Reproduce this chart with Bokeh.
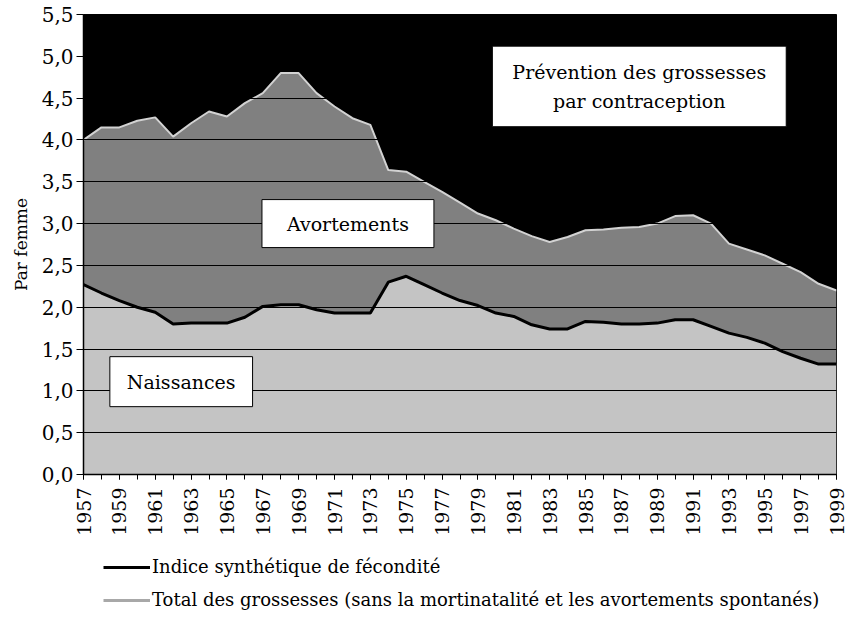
from bokeh.plotting import figure
from bokeh.models import FixedTicker, Label, Legend, LegendItem, ColumnDataSource
from bokeh.layouts import column
from bokeh.embed import file_html
from bokeh.resources import INLINE
import math

years = list(range(1957, 2000))
isf = [2.27, 2.17, 2.08, 2.00, 1.94, 1.80, 1.81, 1.81, 1.81, 1.88,
       2.01, 2.03, 2.03, 1.97, 1.93, 1.93, 1.93, 2.30, 2.37, 2.27,
       2.17, 2.08, 2.02, 1.93, 1.89, 1.79, 1.74, 1.74, 1.83, 1.82,
       1.80, 1.80, 1.81, 1.85, 1.85, 1.77, 1.69, 1.64, 1.57, 1.47,
       1.39, 1.32, 1.32]
total = [4.00, 4.15, 4.15, 4.23, 4.27, 4.04, 4.20, 4.34, 4.28, 4.44,
         4.56, 4.80, 4.80, 4.56, 4.40, 4.26, 4.18, 3.64, 3.62, 3.50,
         3.38, 3.25, 3.12, 3.04, 2.94, 2.85, 2.78, 2.84, 2.92, 2.93,
         2.95, 2.96, 3.00, 3.09, 3.10, 3.00, 2.76, 2.69, 2.62, 2.52,
         2.42, 2.28, 2.20]
y_ticks = [0.0, 0.5, 1.0, 1.5, 2.0, 2.5, 3.0, 3.5, 4.0, 4.5, 5.0, 5.5]
x_label_years = list(range(1957, 2000, 2))
legend_labels = ["Indice synthétique de fécondité",
                 "Total des grossesses (sans la mortinatalité et les avortements spontanés)"]

FONT = "DejaVu Serif"
NAIS_COLOR = "#c4c4c4"
AVORT_COLOR = "#808080"
TOTAL_LINE = "#d2d2d2"

src = ColumnDataSource(dict(year=years, isf=isf, total=total))

p = figure(width=847, height=540, output_backend="svg", toolbar_location=None,
           x_range=(1957, 1999), y_range=(0, 5.5),
           min_border_left=83, min_border_right=11, min_border_top=14,
           min_border_bottom=66)

p.background_fill_color = "black"
p.border_fill_color = "white"
p.outline_line_color = "black"
p.outline_line_width = 1

# areas
p.varea(x="year", y1=0, y2="isf", source=src, fill_color=NAIS_COLOR)
p.varea(x="year", y1="isf", y2="total", source=src, fill_color=AVORT_COLOR)
p.line(x="year", y="total", source=src, line_color=TOTAL_LINE, line_width=2)
p.line(x="year", y="isf", source=src, line_color="black", line_width=3)

# grid
p.xgrid.visible = False
p.ygrid.grid_line_color = "black"
p.ygrid.grid_line_width = 1.2
p.ygrid.level = "annotation"

# y axis
p.yaxis.ticker = FixedTicker(ticks=y_ticks)
p.yaxis.major_label_overrides = {t: f"{t:.1f}".replace(".", ",") for t in y_ticks}
p.yaxis.minor_tick_line_color = None
p.yaxis.major_tick_out = 7
p.yaxis.major_tick_in = 0
p.yaxis.axis_line_color = "black"
p.yaxis.axis_line_width = 1.5
p.yaxis.major_label_text_font = FONT
p.yaxis.major_label_text_font_size = "20px"
p.yaxis.major_label_text_color = "black"
p.yaxis.major_label_standoff = 3
p.yaxis.axis_label = "Par femme"
p.yaxis.axis_label_text_font = FONT
p.yaxis.axis_label_text_font_size = "17px"
p.yaxis.axis_label_text_font_style = "normal"
p.yaxis.axis_label_text_color = "black"
p.yaxis.axis_label_standoff = 8

# x axis
p.xaxis.ticker = FixedTicker(ticks=x_label_years, minor_ticks=years)
p.xaxis.major_label_orientation = math.pi / 2
p.xaxis.major_tick_out = 5
p.xaxis.major_tick_in = 0
p.xaxis.minor_tick_out = 5
p.xaxis.minor_tick_in = 0
p.xaxis.minor_tick_line_color = "black"
p.xaxis.axis_line_color = "black"
p.xaxis.axis_line_width = 1.5
p.xaxis.major_label_text_font = FONT
p.xaxis.major_label_text_font_size = "19px"
p.xaxis.major_label_text_color = "black"
p.xaxis.major_label_standoff = 8

# labels
def box_label(x, y, text, ph, pv):
    lab = Label(x=x, y=y, text=text, text_align="center", text_baseline="middle",
                text_font=FONT, text_font_size="19px", text_color="black",
                text_line_height=1.3,
                background_fill_color="white", border_line_color="black",
                border_line_width=1,
                padding=dict(left=ph, right=ph, top=pv, bottom=pv))
    p.add_layout(lab)

box_label(1962.45, 1.11, "Naissances", 17, 14)
box_label(1971.75, 3.0, "Avortements", 25, 13)
box_label(1988.0, 4.64, "Prévention des grossesses\npar contraception", 20, 15)

# legend strip below the chart (its lines lie outside the visible range)
p2 = figure(width=847, height=77, output_backend="svg", toolbar_location=None,
            x_range=(1957, 1999), y_range=(10, 11), min_border=0,
            x_axis_location=None, y_axis_location=None)
p2.grid.visible = False
p2.outline_line_color = None
p2.background_fill_color = "white"
p2.border_fill_color = "white"
l1 = p2.line(x="year", y="isf", source=src, line_color="black", line_width=3)
l2 = p2.line(x="year", y="total", source=src, line_color="#a8a8a8", line_width=3)
legend = Legend(items=[
    LegendItem(label=legend_labels[0], renderers=[l1]),
    LegendItem(label=legend_labels[1], renderers=[l2]),
], orientation="vertical", location=(20, 7))
legend.label_text_font = FONT
legend.label_text_font_size = "18px"
legend.label_text_color = "black"
legend.border_line_color = None
legend.background_fill_alpha = 0
legend.glyph_width = 47
legend.glyph_height = 20
legend.label_height = 20
legend.spacing = 12
legend.margin = 0
legend.padding = 0
legend.label_standoff = 2
p2.add_layout(legend)

open("out.html", "w").write(file_html(column(p, p2, spacing=0), INLINE))
